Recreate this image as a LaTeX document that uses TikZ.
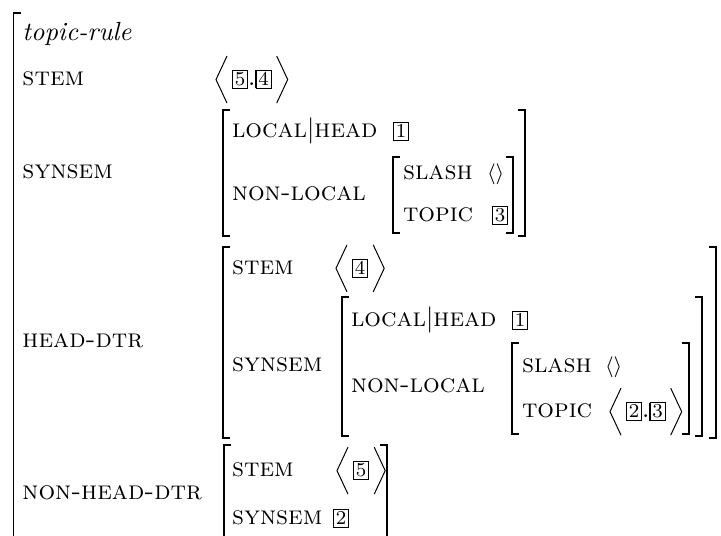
\documentclass[tikz,border=0pt]{standalone}
\usetikzlibrary{calc}
\newcommand{\bx}[1]{{\setlength{\fboxsep}{0.7pt}\setlength{\fboxrule}{0.4pt}\fbox{\fontsize{7.5}{9}\selectfont #1}}}
\newcommand{\sm}[1]{\textsc{#1}}
\newcommand{\angs}[1]{%
  \draw[ang] ($(#1.west)+(-5,-23.5)$) -- ($(#1.west)+(-16,0)$) -- ($(#1.west)+(-5,23.5)$);
  \draw[ang] ($(#1.east)+(5,-23.5)$) -- ($(#1.east)+(16,0)$) -- ($(#1.east)+(5,23.5)$);}
\begin{document}
\begin{tikzpicture}[x=0.3814pt,y=-0.3814pt,
 lbl/.style={anchor=base west,inner sep=0pt,outer sep=0pt},
 val/.style={anchor=base west,inner sep=0pt,outer sep=0pt},
 brk/.style={line width=0.76pt,line cap=butt,line join=miter},
 ang/.style={line width=0.38pt,line join=miter}]
\useasboundingbox (0,0) rectangle (721,536);
\clip (0,0) rectangle (721,536);
% outer
\draw[brk] (21,13) -- (13.5,13) -- (13.5,560);
\node[lbl] (type) at (22.5,41) {\textit{topic-rule}};
\node[lbl] (f1) at (22.5,86) {\sm{stem}};
\node[val] (v1) at (232,86) {\bx{5}.\bx{4}};
\angs{v1}
% synsem
\node[lbl] (f2) at (22.5,179) {\sm{synsem}};
\draw[brk] (230,110) -- (223,110) -- (223,236) -- (230,236);
\draw[brk] (518,110) -- (525,110) -- (525,236) -- (518,236);
\node[lbl] (f21) at (232,138) {\sm{local}$|$\sm{head}};
\node[val] (v21) at (393,138) {\bx{1}};
\node[lbl] (f22) at (232,201) {\sm{non-local}};
\draw[brk] (400,157) -- (393,157) -- (393,233) -- (400,233);
\draw[brk] (506,157) -- (513,157) -- (513,233) -- (506,233);
\node[lbl] (f221) at (403,180) {\sm{slash}};
\node[val] (v221) at (487,180) {\footnotesize$\langle\rangle$};
\node[lbl] (f222) at (403,222) {\sm{topic}};
\node[val] (v222) at (492,222) {\bx{3}};
% head-dtr
\node[lbl] (f3) at (22.5,348) {\sm{head-dtr}};
\draw[brk] (230,247) -- (223,247) -- (223,438) -- (230,438);
\draw[brk] (709,247) -- (716,247) -- (716,438) -- (709,438);
\node[lbl] (f31) at (232,275) {\sm{stem}};
\node[val] (v31) at (352,275) {\bx{4}};
\angs{v31}
\node[lbl] (f32) at (232,372) {\sm{synsem}};
\draw[brk] (349,297) -- (342,297) -- (342,436) -- (349,436);
\draw[brk] (695,297) -- (702,297) -- (702,436) -- (695,436);
\node[lbl] (f321) at (351,327) {\sm{local}$|$\sm{head}};
\node[val] (v321) at (512,327) {\bx{1}};
\node[lbl] (f322) at (351,393) {\sm{non-local}};
\draw[brk] (519,343) -- (512,343) -- (512,434) -- (519,434);
\draw[brk] (682,343) -- (689,343) -- (689,434) -- (682,434);
\node[lbl] (f3221) at (522,373) {\sm{slash}};
\node[val] (v3221) at (605,373) {\footnotesize$\langle\rangle$};
\node[lbl] (f3222) at (522,418) {\sm{topic}};
\node[val] (v3222) at (626,418) {\bx{2}.\bx{3}};
\angs{v3222}
% non-head-dtr
\node[lbl] (f4) at (22.5,500) {\sm{non-head-dtr}};
\draw[brk] (231,445) -- (224,445) -- (224,560);
\draw[brk] (380,445) -- (387,445) -- (387,560);
\node[lbl] (f41) at (232,477) {\sm{stem}};
\node[val] (v41) at (353,477) {\bx{5}};
\angs{v41}
\node[lbl] (f42) at (232,525) {\sm{synsem}};
\node[val] (v42) at (333,525) {\bx{2}};
\end{tikzpicture}
\end{document}
